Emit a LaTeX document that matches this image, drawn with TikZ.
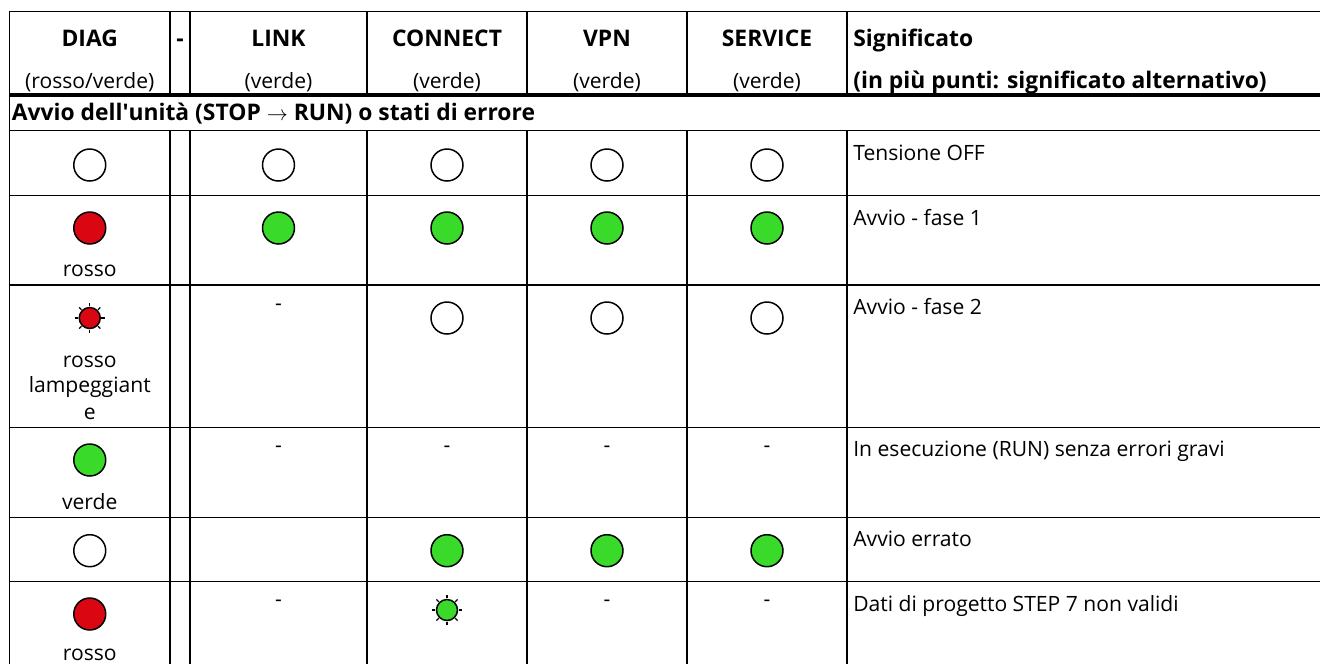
\documentclass[tikz,border=0pt]{standalone}
\usepackage{fontspec}
\setmainfont{Open Sans}
\definecolor{ledred}{RGB}{218,6,18}
\definecolor{ledgreen}{RGB}{58,218,42}
\begin{document}
\begin{tikzpicture}[x=0.02cm,y=-0.02cm,
  every node/.style={inner sep=0pt,anchor=base},
  txt/.style={font=\fontsize{12}{14}\selectfont},
  hdr/.style={font=\fontsize{13}{14}\selectfont\bfseries},
  rule/.style={line width=0.6pt},
  thickrule/.style={line width=1.8pt},
  lamp/.style={draw,line width=0.85pt}]

\def\cDiag{89.75}
\def\cLink{278.5}
\def\cConn{447}
\def\cVpn{607}
\def\cServ{767}
\def\xMean{853}
\def\lampR{0.32cm}
\def\blinkR{0.21cm}

\newcommand{\lamp}[3]{%
	\draw [lamp,fill=#3] (#1,#2) circle (\lampR);
}
\newcommand{\blinklamp}[3]{%
	\draw [lamp,fill=#3] (#1,#2) circle (\blinkR);
	% rays
	\foreach \a in {0,45,...,315}
		\draw [line width=0.7pt,shift={(#1,#2)}] (\a:0.235cm) -- (\a:0.30cm);
}

\useasboundingbox (0,0) rectangle (1320,664);

% grid
\draw [rule] (1320,11.5) -- (9.5,11.5) -- (9.5,664);
\draw [thickrule] (9.5,95) -- (1320,95);
\foreach \y in {130.7,195.7,285,427.3,517.3,581.7}
	\draw [rule] (9.5,\y) -- (1320,\y);
\foreach \x in {170,190,367,527,687,847} {
	\draw [rule] (\x,11.5) -- (\x,95);
	\draw [rule] (\x,130.7) -- (\x,664);
}

% header
\node [hdr] (hDiag) at (\cDiag,46.7) {DIAG};
\node [txt] (hDiagC) at (\cDiag,88) {(rosso/verde)};
\node [hdr] (hSep) at (180,46.7) {-};
\node [hdr] (hLink) at (\cLink,46.7) {LINK};
\node [txt] (hLinkC) at (\cLink,88) {(verde)};
\node [hdr] (hConn) at (\cConn,46.7) {CONNECT};
\node [txt] (hConnC) at (\cConn,88) {(verde)};
\node [hdr] (hVpn) at (\cVpn,46.7) {VPN};
\node [txt] (hVpnC) at (\cVpn,88) {(verde)};
\node [hdr] (hServ) at (\cServ,46.7) {SERVICE};
\node [txt] (hServC) at (\cServ,88) {(verde)};
\node [hdr,anchor=base west] (hMean) at (\xMean,46.7) {Significato};
\node [hdr,anchor=base west] (hMeanC) at (\xMean,88) {(in più punti: significato alternativo)};

% section
\node [hdr,anchor=base west] (sec) at (11.5,120.7) {Avvio dell\textquotesingle unità (STOP $\rightarrow$ RUN) o stati di errore};

% row 1
\lamp{\cDiag}{165}{white}
\lamp{\cLink}{165}{white}
\lamp{\cConn}{165}{white}
\lamp{\cVpn}{165}{white}
\lamp{\cServ}{165}{white}
\node [txt,anchor=base west] (m1) at (\xMean,160) {Tensione OFF};

% row 2
\lamp{\cDiag}{228}{ledred}
\node [txt] (d2) at (\cDiag,276.7) {rosso};
\lamp{\cLink}{228}{ledgreen}
\lamp{\cConn}{228}{ledgreen}
\lamp{\cVpn}{228}{ledgreen}
\lamp{\cServ}{228}{ledgreen}
\node [txt,anchor=base west] (m2) at (\xMean,225) {Avvio - fase 1};

% row 3
\blinklamp{\cDiag}{318}{ledred}
\node [txt] (d3a) at (\cDiag,367.7) {rosso};
\node [txt] (d3b) at (\cDiag,392.7) {lampeggiant};
\node [txt] (d3c) at (\cDiag,419.3) {e};
\node [txt] (l3) at (\cLink,310) {-};
\lamp{\cConn}{318}{white}
\lamp{\cVpn}{318}{white}
\lamp{\cServ}{318}{white}
\node [txt,anchor=base west] (m3) at (\xMean,314.3) {Avvio - fase 2};

% row 4
\lamp{\cDiag}{460}{ledgreen}
\node [txt] (d4) at (\cDiag,509.3) {verde};
\node [txt] (l4) at (\cLink,452) {-};
\node [txt] (c4) at (\cConn,452) {-};
\node [txt] (v4) at (\cVpn,452) {-};
\node [txt] (s4) at (\cServ,452) {-};
\node [txt,anchor=base west] (m4) at (\xMean,456.6) {In esecuzione (RUN) senza errori gravi};

% row 5
\lamp{\cDiag}{550.7}{white}
\lamp{\cConn}{550.7}{ledgreen}
\lamp{\cVpn}{550.7}{ledgreen}
\lamp{\cServ}{550.7}{ledgreen}
\node [txt,anchor=base west] (m5) at (\xMean,546.6) {Avvio errato};

% row 6
\lamp{\cDiag}{614}{ledred}
\node [txt] (d6) at (\cDiag,660) {rosso};
\node [txt] (l6) at (\cLink,606.5) {-};
\blinklamp{\cConn}{610}{ledgreen}
\node [txt] (v6) at (\cVpn,606.5) {-};
\node [txt] (s6) at (\cServ,606.5) {-};
\node [txt,anchor=base west] (m6) at (\xMean,611) {Dati di progetto STEP 7 non validi};

\end{tikzpicture}
\end{document}
